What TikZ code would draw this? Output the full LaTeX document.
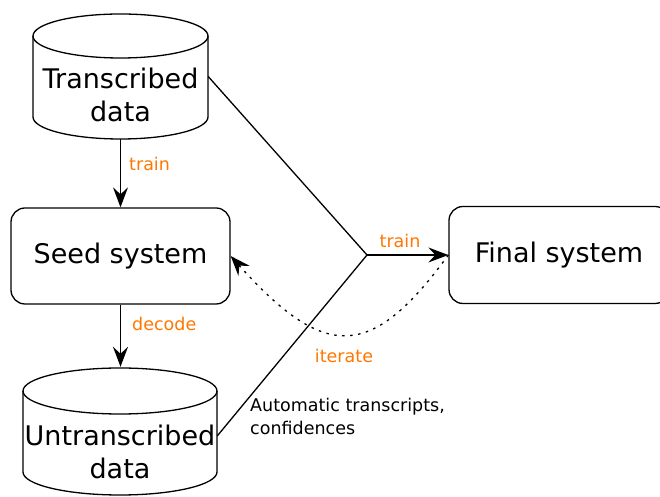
\documentclass[tikz,border=0pt]{standalone}
\usepackage{fontspec}
\setmainfont{DejaVu Sans}
\usetikzlibrary{arrows.meta}
\definecolor{lblorange}{RGB}{255,119,0}
\tikzset{
  x=1pt, y=1pt,
  link/.style={line width=1.3pt},
  flow/.style={link, -{Stealth[length=20pt,width=15pt,inset=7pt]}},
  loopback/.style={flow, dash pattern=on 2.5pt off 5.5pt},
  sysbox/.style={draw, line width=1.3pt, rounded corners=14pt,
    minimum width=219pt, minimum height=96pt,
    font=\fontsize{27}{33}\selectfont},
  bigtext/.style={font=\fontsize{27}{33}\selectfont, align=center, inner sep=0pt},
  edgelabel/.style={text=lblorange, font=\fontsize{17.5}{23}\selectfont, inner sep=0pt},
  notetext/.style={font=\fontsize{17.5}{23}\selectfont, align=left, inner sep=0pt},
  shapearea/.style={inner sep=0pt},
}
\begin{document}
\begin{tikzpicture}
\useasboundingbox (0,0) rectangle (660,497);

% ---- Transcribed data (cylinder) ----
\draw[link, fill=white] (33,461) -- (33,380)
  arc[start angle=180, end angle=360, x radius=87.5, y radius=22] -- (208,461)
  arc[start angle=0, end angle=180, x radius=87.5, y radius=22] -- cycle;
\draw[link] (33,461) arc[start angle=180, end angle=360, x radius=87.5, y radius=22];
\node[shapearea, minimum width=175pt, minimum height=125pt] (trans) at (120.5,420.5) {};
\node[bigtext] (transtxt) at (120.5,402.5) {Transcribed\\data};

% ---- Untranscribed data (cylinder) ----
\draw[link, fill=white] (23,106) -- (23,25)
  arc[start angle=180, end angle=360, x radius=97, y radius=23] -- (217,106)
  arc[start angle=0, end angle=180, x radius=97, y radius=23] -- cycle;
\draw[link] (23,106) arc[start angle=180, end angle=360, x radius=97, y radius=23];
\node[shapearea, minimum width=194pt, minimum height=128pt] (untr) at (120,66) {};
\node[bigtext] (untrtxt) at (120,45.5) {Untranscribed\\data};

% ---- Systems ----
\node[sysbox] (seed) at (120.5,241) {Seed system};
\node[sysbox, minimum width=220pt, minimum height=97pt] (final) at (559,242) {Final system};

% ---- Junction of the two data streams ----
\coordinate (junc) at (367,242);

% ---- Connectors ----
\draw[flow] (trans.south) -- (seed.north);
\draw[flow] (seed.south) -- (seed.south |- untr.north);
\draw[link] (trans.east) -- (junc);
\draw[link] ([yshift=-5pt]untr.east) -- (junc);
\draw[flow] (junc) -- (final.west);
\draw[loopback] (final.west) .. controls (371,136) and (325,136) .. (seed.east);

% ---- Labels ----
\node[edgelabel, anchor=west] (lbltrain1) at (129,333.5) {train};
\node[edgelabel, anchor=west] (lbldecode) at (132,173) {decode};
\node[edgelabel] (lbltrain2) at (400,256) {train};
\node[edgelabel] (lbliterate) at (344,141) {iterate};
\node[notetext, anchor=west] (autonote) at (250,81) {Automatic transcripts,\\confidences};
\end{tikzpicture}
\end{document}
